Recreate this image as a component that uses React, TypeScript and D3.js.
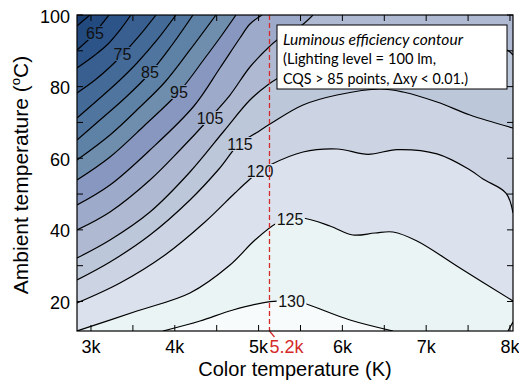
import * as d3 from "d3";

const W = 519,
  H = 380;
const margin = { left: 77, top: 15, right: 6, bottom: 49 };
const width = W - margin.left - margin.right;
const height = H - margin.top - margin.bottom;

const xDomain = [2.833, 8.036];
const yDomain = [11.76, 100];

// contour levels (lm/W) and the fill of each band, darkest (<60) to lightest (>130)
const levels = [60, 65, 70, 75, 80, 85, 90, 95, 100, 105, 110, 115, 120, 125, 130];
const bandColors = [
  "#1b3f72", "#224a7f", "#2c5488", "#385f90", "#446a98", "#50759f", "#5e81a6",
  "#6f8eae", "#8797c0", "#9eaac9", "#afbad2", "#bdc7da", "#ccd4e4", "#dce2ed",
  "#ebf4f4", "#f8fbfb",
];

// contour lines: [color temperature (k), ambient temperature (°C)]
const c60 = [[2.833, 96.93], [2.916, 98.6], [2.988, 100]];
const c65 = [[2.833, 90.23], [2.94, 92.46], [3.036, 94.69], [3.131, 97.49], [3.215, 100]];
const c70 = [[2.833, 85.2], [3.048, 88.83], [3.203, 91.9], [3.346, 95.81], [3.477, 100]];
const c75 = [[2.833, 78.22], [3.048, 81.85], [3.227, 85.48], [3.382, 89.11], [3.585, 94.42], [3.776, 100]];
const c80 = [[2.833, 71.24], [3.107, 76.82], [3.346, 81.85], [3.549, 86.6], [3.788, 93.02], [4.014, 100]];
const c85 = [[2.833, 65.09], [3.107, 70.68], [3.406, 76.82], [3.716, 84.08], [3.967, 91.62], [4.217, 100]];
const c90 = [[2.833, 59.51], [3.227, 66.49], [3.585, 74.31], [3.883, 81.29], [4.181, 90.23], [4.492, 100]];
const c95 = [[2.833, 53.92], [3.227, 60.35], [3.644, 69.28], [4.05, 78.5], [4.36, 87.99], [4.563, 94.42], [4.73, 100]];
const c100 = [[2.833, 46.94], [3.227, 52.53], [3.704, 62.3], [4.229, 74.59], [4.539, 85.2], [4.778, 93.58], [4.897, 97.49], [5.041, 100]];
const c105 = [[2.833, 39.96], [3.227, 44.99], [3.704, 53.92], [4.062, 62.3], [4.408, 70.96], [4.659, 77.66], [4.897, 85.48], [5.124, 91.06], [5.22, 93.02], [5.518, 97.21], [5.649, 100]];
const c110 = [[2.833, 32.14], [3.227, 37.17], [3.704, 44.99], [4.181, 56.16], [4.587, 67.61], [4.897, 76.26], [5.124, 80.73], [5.255, 82.69], [5.852, 90.78], [6.687, 94.14], [7.523, 93.02], [7.964, 90.23], [8.036, 88.83]];
const c115 = [[2.833, 26.0], [3.227, 31.02], [3.704, 38.56], [4.181, 48.34], [4.527, 57.0], [4.766, 63.98], [4.969, 67.05], [5.136, 69.56], [5.53, 74.87], [5.936, 77.66], [6.449, 79.34], [6.723, 78.5], [7.129, 75.7], [7.523, 72.08], [8.036, 68.44]];
const c120 = [[2.833, 19.58], [3.346, 25.16], [3.883, 32.98], [4.36, 42.19], [4.718, 50.29], [4.885, 53.92], [5.017, 56.44], [5.136, 58.11], [5.53, 61.74], [5.936, 62.58], [6.306, 61.1], [6.652, 62.4], [7.129, 61.2], [7.523, 56.72], [7.678, 54.2], [7.952, 50.29], [8.036, 44.71]];
const c125 = [[2.833, 11.76], [3.549, 17.34], [4.181, 22.37], [4.659, 30.19], [4.957, 37.17], [5.22, 41.92], [5.375, 43.03], [5.53, 43.31], [5.852, 41.08], [6.126, 38.56], [6.389, 39.12], [6.604, 39.4], [6.89, 36.89], [7.403, 29.35], [8.036, 20.13]];
const c130 = [[3.859, 11.76], [4.301, 14.55], [4.695, 17.62], [5.136, 19.94], [5.387, 20.13], [5.53, 19.58], [6.091, 14.83], [6.604, 11.76]];
const c130corner = [[7.976, 11.76], [8.036, 14.27]];

const contours = [
  { level: 60, pts: c60 }, { level: 65, pts: c65 }, { level: 70, pts: c70 },
  { level: 75, pts: c75 }, { level: 80, pts: c80 }, { level: 85, pts: c85 },
  { level: 90, pts: c90 }, { level: 95, pts: c95 }, { level: 100, pts: c100 },
  { level: 105, pts: c105 }, { level: 110, pts: c110 }, { level: 115, pts: c115 },
  { level: 120, pts: c120 }, { level: 125, pts: c125 }, { level: 130, pts: c130 },
  { level: 130, pts: c130corner },
];

// inline contour labels
const labelLevels = [65, 75, 85, 95, 105, 115, 120, 125, 130];
const labelK = [3.048, 3.376, 3.704, 4.05, 4.42, 4.778, 5.017, 5.375, 5.393];
const labelT = [94.97, 89.11, 84.08, 78.5, 71.24, 63.98, 56.44, 43.03, 20.13];

const xTicks = [3, 3.5, 4, 4.5, 5, 5.5, 6, 6.5, 7, 7.5, 8];
const xTickLabels = ["3k", "", "4k", "", "5k", "", "6k", "", "7k", "", "8k"];
const yTicks = [20, 30, 40, 50, 60, 70, 80, 90, 100];
const yTickLabels = ["20", "", "40", "", "60", "", "80", "", "100"];

const markerK = 5.13;
const markerLabel = "5.2k";
const noteLines = [
  "Luminous efficiency contour",
  "(Lighting level = 100 lm,",
  "CQS > 85 points, \u0394xy < 0.01.)",
];
const noteWidths = [180, 153, 185];

const xScale = d3.scaleLinear().domain(xDomain).range([0, width]);
const yScale = d3.scaleLinear().domain(yDomain).range([height, 0]);

const valueLine = d3
  .line<number[]>()
  .x((d) => xScale(d[0]))
  .y((d) => yScale(d[1]))
  .curve(d3.curveCatmullRom.alpha(0.5));

// which border of the plot a contour end sits on: 0 top, 1 right, 2 bottom, 3 left
const edgeOf = (p: number[]) => {
  let kx = (p[0] - xDomain[0]) / (xDomain[1] - xDomain[0]),
    ky = (p[1] - yDomain[0]) / (yDomain[1] - yDomain[0]);
  let dist = [1 - ky, 1 - kx, ky, kx];
  return dist.indexOf(Math.min(...dist));
};
const cornerAfter = [
  [xDomain[1], yDomain[1]],
  [xDomain[1], yDomain[0]],
  [xDomain[0], yDomain[0]],
  [xDomain[0], yDomain[1]],
];

// region on the high-value (lower right) side of a contour
const bandPath = (pts: number[][]) => {
  let start = edgeOf(pts[0]),
    e = edgeOf(pts[pts.length - 1]),
    extra = [];
  let guard = 0;
  while (e !== start && guard < 4) {
    extra.push(cornerAfter[e]);
    e = (e + 1) % 4;
    guard++;
  }
  return (
    valueLine(pts) +
    extra.map((c) => `L${xScale(c[0])},${yScale(c[1])}`).join("") +
    "Z"
  );
};

const axisFont = "'Liberation Sans', Arial, sans-serif";

export default function App() {
  let xm = xScale(markerK);
  return (
    <svg
      width={W}
      height={H}
      style={{ position: "absolute", left: 0, top: 0, background: "#fff" }}
    >
      <defs>
        <clipPath id="plotClip">
          <rect x={0} y={0} width={width} height={height} />
        </clipPath>
        <mask id="labelMask" maskUnits="userSpaceOnUse" x={-10} y={-10} width={width + 20} height={height + 20}>
          <rect x={-10} y={-10} width={width + 20} height={height + 20} fill="#fff" />
          {labelLevels.map((lv, i) => {
            let w = String(lv).length * 8.9 + 3;
            return (
              <rect
                key={i}
                x={xScale(labelK[i]) - w / 2}
                y={yScale(labelT[i]) - 7}
                width={w}
                height={14}
                fill="#000"
              />
            );
          })}
        </mask>
      </defs>
      <g transform={`translate(${margin.left}, ${margin.top})`}>
        <g clipPath="url(#plotClip)">
          <rect x={0} y={0} width={width} height={height} fill={bandColors[0]} />
          {contours.map((c, i) => (
            <path
              key={i}
              d={bandPath(c.pts)}
              fill={bandColors[levels.indexOf(c.level) + 1]}
              stroke="none"
            />
          ))}
          <g mask="url(#labelMask)">
            {contours.map((c, i) => (
              <path
                key={i}
                d={valueLine(c.pts)}
                fill="none"
                stroke="#000"
                strokeWidth={1.2}
              />
            ))}
          </g>
        </g>
        {labelLevels.map((lv, i) => (
          <text
            key={i}
            x={xScale(labelK[i])}
            y={yScale(labelT[i]) + 5.7}
            textAnchor="middle"
            fontFamily={axisFont}
            fontSize={16}
            fill="#111"
          >
            {lv}
          </text>
        ))}

        {/* 5.2k marker */}
        <line
          x1={xm}
          x2={xm}
          y1={0}
          y2={height}
          stroke="#d42a2a"
          strokeWidth={1.3}
          strokeDasharray="5,3"
        />
        <line x1={xm} y1={height} x2={xm + 5} y2={height + 6} stroke="#d42a2a" strokeWidth={1.2} />

        {/* note box */}
        <rect x={200} y={10} width={230} height={64} fill="#fff" stroke="#000" strokeWidth={1} />
        {noteLines.map((t, i) => (
          <text
            key={i}
            x={206}
            y={30 + i * 19.3}
            fontFamily="Lato, 'Open Sans', sans-serif"
            fontSize={15}
            fontStyle={i === 0 ? "italic" : "normal"}
            fill="#000"
            textLength={noteWidths[i]}
            lengthAdjust="spacingAndGlyphs"
          >
            {t}
          </text>
        ))}

        {/* frame and ticks */}
        <rect x={0} y={0} width={width} height={height} fill="none" stroke="#000" strokeWidth={1.2} />
        {xTicks.map((v, i) => (
          <g key={i}>
            <line x1={xScale(v)} x2={xScale(v)} y1={height} y2={height - 6} stroke="#000" />
            <line x1={xScale(v)} x2={xScale(v)} y1={0} y2={6} stroke="#000" />
            <text
              x={xScale(v)}
              y={height + 22}
              textAnchor="middle"
              fontFamily={axisFont}
              fontSize={18}
              fill="#000"
            >
              {xTickLabels[i]}
            </text>
          </g>
        ))}
        <text
          x={xm + 17}
          y={height + 22}
          textAnchor="middle"
          fontFamily={axisFont}
          fontSize={18}
          fill="#d42a2a"
        >
          {markerLabel}
        </text>
        {yTicks.map((v, i) => (
          <g key={i}>
            <line x1={0} x2={6} y1={yScale(v)} y2={yScale(v)} stroke="#000" />
            <line x1={width} x2={width - 6} y1={yScale(v)} y2={yScale(v)} stroke="#000" />
            <text
              x={-7}
              y={yScale(v) + 7.5}
              textAnchor="end"
              fontFamily={axisFont}
              fontSize={18}
              fill="#000"
            >
              {yTickLabels[i]}
            </text>
          </g>
        ))}
        <text
          x={width / 2}
          y={height + 44.5}
          textAnchor="middle"
          fontFamily={axisFont}
          fontSize={20}
          fill="#000"
        >
          Color temperature (K)
        </text>
        <text
          transform={`translate(${-49}, ${height / 2 + 2}) rotate(-90)`}
          textAnchor="middle"
          fontFamily={axisFont}
          fontSize={21}
          fill="#000"
        >
          Ambient temperature (
          <tspan fontSize={13} dy={-8}>
            o
          </tspan>
          <tspan dy={8}>C)</tspan>
        </text>
      </g>
    </svg>
  );
}
